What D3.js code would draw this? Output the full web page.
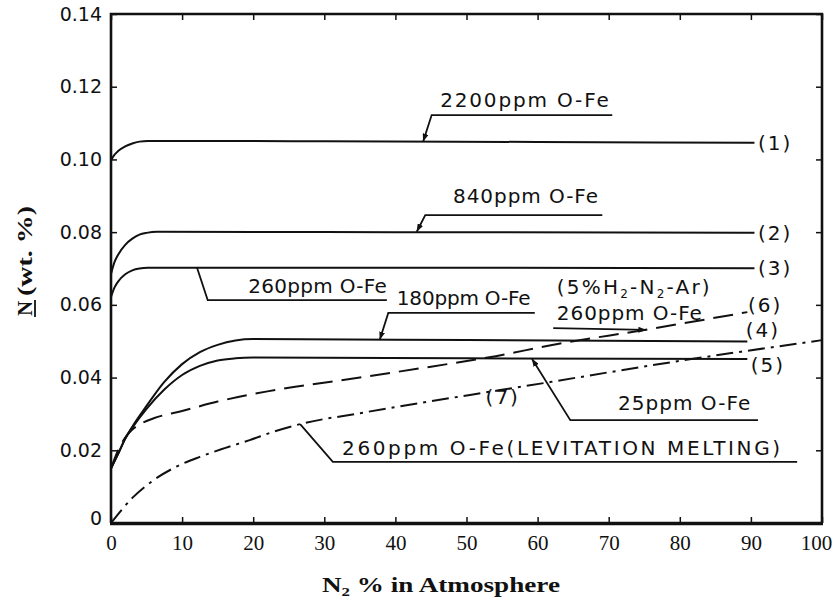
<!DOCTYPE html>
<html>
<head>
<meta charset="utf-8">
<script src="https://cdn.jsdelivr.net/npm/d3@7"></script>
<style>
  body { margin: 0; background: #fff; }
  svg { display: block; }
</style>
</head>
<body>
<svg id="chart" width="836" height="603"></svg>
<script>
// ---- data: N2 % in atmosphere vs. N (wt.%) ----
const xTicks = [0, 10, 20, 30, 40, 50, 60, 70, 80, 90, 100];
const yTicks = [0, 0.02, 0.04, 0.06, 0.08, 0.10, 0.12, 0.14];
const yTickLabels = ["0", "0.02", "0.04", "0.06", "0.08", "0.10", "0.12", "0.14"];

// (1) 2200ppm O-Fe
const curve1X = [0, 0.5, 1, 2, 3, 4, 5.2, 30, 60, 90.5];
const curve1Y = [0.0998, 0.1013, 0.1023, 0.1036, 0.1044, 0.1049, 0.1051, 0.1050, 0.1048, 0.1046];
// (2) 840ppm O-Fe
const curve2X = [0, 0.5, 1, 2, 3, 4, 5, 6.5, 40, 90.5];
const curve2Y = [0.0685, 0.0718, 0.0738, 0.0765, 0.0782, 0.0793, 0.0798, 0.0801, 0.0800, 0.0798];
// (3) 260ppm O-Fe
const curve3X = [0, 0.5, 1, 2, 3, 4, 5.2, 40, 90.5];
const curve3Y = [0.0622, 0.0648, 0.0664, 0.0684, 0.0695, 0.0700, 0.0702, 0.0702, 0.0701];
// (4) 180ppm O-Fe
const curve4X = [0, 1, 2, 3, 5, 7.5, 10, 12.5, 15, 17.5, 20, 50, 89.5];
const curve4Y = [0.0150, 0.0190, 0.0232, 0.0265, 0.0322, 0.0388, 0.0437, 0.0470, 0.0490, 0.0502, 0.0506, 0.0503, 0.0499];
// (5) 25ppm O-Fe
const curve5X = [0, 1, 2, 3, 5, 7.5, 10, 12.5, 15, 17.5, 20, 50, 89.5];
const curve5Y = [0.0150, 0.0190, 0.0232, 0.0262, 0.0314, 0.0367, 0.0407, 0.0432, 0.0447, 0.0453, 0.0455, 0.0453, 0.0451];
// (6) 260ppm O-Fe (5%H2-N2-Ar)
const curve6X = [0, 1, 2, 3, 4, 6, 10, 15, 22, 35, 45, 53, 63, 75, 89.5];
const curve6Y = [0.0150, 0.0200, 0.0235, 0.0257, 0.0271, 0.0288, 0.0308, 0.0334, 0.0362, 0.0400, 0.0430, 0.0455, 0.0493, 0.0531, 0.0580];
// (7) 260ppm O-Fe (levitation melting)
const curve7X = [0, 3, 6, 9, 12.5, 16, 19.5, 23, 26.6, 35, 52, 56.5, 80, 100];
const curve7Y = [0, 0.0069, 0.0118, 0.0153, 0.0182, 0.0206, 0.0228, 0.0252, 0.0272, 0.0302, 0.0357, 0.0371, 0.0446, 0.0503];

const seriesX = [curve1X, curve2X, curve3X, curve4X, curve5X, curve6X, curve7X];
const seriesY = [curve1Y, curve2Y, curve3Y, curve4Y, curve5Y, curve6Y, curve7Y];
const seriesNames = ["(1)", "(2)", "(3)", "(4)", "(5)", "(6)", "(7)"];
const seriesDash = [null, null, null, null, null, "20,9", "17,6,3,6"];
// where each curve's number is written (data units)
const seriesLabelX = [93.4, 93.4, 93.4, 91.7, 92.4, 92.0, 55.1];
const seriesLabelY = [0.1045, 0.0797, 0.0701, 0.0531, 0.0435, 0.0600, 0.0347];

// annotation leaders: curve anchor -> elbow -> end of underline (data units)
const annoText = ["2200ppm O-Fe", "840ppm O-Fe", "260ppm O-Fe", "180ppm O-Fe",
                  "260ppm O-Fe", "25ppm O-Fe", "260ppm O-Fe(LEVITATION MELTING)"];
const annoLeader = [
  [[43.9, 0.1049], [45.1, 0.1122], [70.5, 0.1122]],
  [[43.0, 0.0801], [44.2, 0.0847], [69.1, 0.0847]],
  [[12.1, 0.0702], [13.6, 0.0613], [38.8, 0.0613]],
  [[37.8, 0.0504], [39.0, 0.0578], [59.6, 0.0578]],
  [[75.3, 0.0531], [62.2, 0.0536]],
  [[59.2, 0.0452], [64.6, 0.0283], [91.0, 0.0283]],
  [[26.6, 0.0272], [31.2, 0.0168], [96.5, 0.0168]]
];
const annoArrow = [true, true, false, true, true, true, false];
const annoTextX0 = [46.3, 48.1, 19.3, 40.2, 62.7, 71.3, 32.5];
const annoTextX1 = [70.0, 68.5, 38.8, 59.0, 83.1, 89.9, 94.1];
const annoTextY = [0.1144, 0.0880, 0.0633, 0.0600, 0.0558, 0.0311, 0.0187];
const gasNote = { x0: 62.7, x1: 84.2, y: 0.0630 };

// ---- layout ----
const svg = d3.select("#chart");
const x = d3.scaleLinear().domain([0, 100]).range([111, 822]);
const y = d3.scaleLinear().domain([0, 0.14]).range([523, 14]);
const ink = "#111";

svg.append("defs").append("marker")
  .attr("id", "arrow")
  .attr("viewBox", "0 0 8 6")
  .attr("refX", 8).attr("refY", 3)
  .attr("markerWidth", 8).attr("markerHeight", 6)
  .attr("markerUnits", "userSpaceOnUse")
  .attr("orient", "auto-start-reverse")
  .append("path").attr("d", "M0,0 L8,3 L0,6 Z").attr("fill", ink);

// axes with inward ticks
const sansFont = "'DejaVu Sans', sans-serif";
const serifFont = "'Liberation Serif', 'DejaVu Serif', serif";
const gx = svg.append("g").attr("transform", `translate(0,${y(0)})`)
  .call(d3.axisBottom(x).tickValues(xTicks).tickSize(-6).tickPadding(12).tickFormat(d3.format("d")));
gx.select(".domain").remove();
gx.attr("font-family", null);
gx.selectAll("text").style("font-family", serifFont).style("font-size", "21px").attr("fill", ink);
gx.selectAll("line").attr("stroke", ink).attr("stroke-width", 1.5);
// last label sits just inside the frame corner
gx.selectAll(".tick").filter(d => d === 100).select("text").attr("dx", -6);

const gy = svg.append("g").attr("transform", `translate(${x(0)},0)`)
  .call(d3.axisLeft(y).tickValues(yTicks).tickSize(-6).tickPadding(9)
    .tickFormat((d, i) => yTickLabels[i]));
gy.select(".domain").remove();
gy.selectAll("text").style("font-family", sansFont).style("font-size", "19px").attr("fill", ink);
gy.selectAll("line").attr("stroke", ink).attr("stroke-width", 1.5);
gy.selectAll(".tick").filter(d => d === 0).select("text").attr("dy", "0.1em");

const gyr = svg.append("g").attr("transform", `translate(${x(100)},0)`)
  .call(d3.axisRight(y).tickValues(yTicks).tickSize(-6).tickFormat(""));
gyr.select(".domain").remove();
gyr.selectAll("line").attr("stroke", ink).attr("stroke-width", 1.5);

const gxt = svg.append("g").attr("transform", `translate(0,${y(0.14)})`)
  .call(d3.axisTop(x).tickValues(xTicks).tickSize(-6).tickFormat(""));
gxt.select(".domain").remove();
gxt.selectAll("line").attr("stroke", ink).attr("stroke-width", 1.5);

// frame
svg.append("path")
  .attr("d", `M${x(0)},${y(0)} V${y(0.14)} H${x(100)} V${y(0)}`)
  .attr("fill", "none").attr("stroke", ink).attr("stroke-width", 2.6);
svg.append("line")
  .attr("x1", x(0) - 1).attr("x2", x(100) + 1).attr("y1", y(0) + 0.5).attr("y2", y(0) + 0.5)
  .attr("stroke", ink).attr("stroke-width", 3.6);

// curves
const line = d3.line().x(d => x(d[0])).y(d => y(d[1])).curve(d3.curveMonotoneX);
seriesX.forEach((xs, i) => {
  svg.append("path")
    .datum(xs.map((v, j) => [v, seriesY[i][j]]))
    .attr("d", line)
    .attr("fill", "none")
    .attr("stroke", ink)
    .attr("stroke-width", 2)
    .attr("stroke-dasharray", seriesDash[i]);
});

// curve numbers
seriesNames.forEach((name, i) => {
  svg.append("text")
    .attr("x", x(seriesLabelX[i])).attr("y", y(seriesLabelY[i]))
    .attr("text-anchor", "middle").attr("dominant-baseline", "central")
    .style("font-family", sansFont).style("font-size", "20px")
    .attr("letter-spacing", 2).attr("fill", ink)
    .text(name);
});

// annotations
const leader = d3.line().x(d => x(d[0])).y(d => y(d[1]));
annoText.forEach((t, i) => {
  svg.append("path")
    .attr("d", leader(annoLeader[i]))
    .attr("fill", "none").attr("stroke", ink).attr("stroke-width", 1.8)
    .attr("marker-start", annoArrow[i] ? "url(#arrow)" : null);
  svg.append("text")
    .attr("x", x(annoTextX0[i])).attr("y", y(annoTextY[i]))
    .attr("textLength", x(annoTextX1[i]) - x(annoTextX0[i]))
    .attr("lengthAdjust", "spacing")
    .style("font-family", sansFont).style("font-size", "20px").attr("fill", ink)
    .text(t);
});

// carrier gas note for curve (6)
const gas = svg.append("text")
  .attr("x", x(gasNote.x0)).attr("y", y(gasNote.y))
  .attr("textLength", x(gasNote.x1) - x(gasNote.x0))
  .attr("lengthAdjust", "spacing")
  .style("font-family", sansFont).style("font-size", "20px").attr("fill", ink);
gas.append("tspan").text("(5%H");
gas.append("tspan").style("font-size", "12px").attr("dy", 4).text("2");
gas.append("tspan").attr("dy", -4).text("-N");
gas.append("tspan").style("font-size", "12px").attr("dy", 4).text("2");
gas.append("tspan").attr("dy", -4).text("-Ar)");

// axis titles
const xt = svg.append("text")
  .attr("x", 322).attr("y", 592)
  .attr("textLength", 238).attr("lengthAdjust", "spacingAndGlyphs")
  .style("font-family", serifFont).style("font-weight", "bold")
  .style("font-size", "21px").attr("fill", ink);
xt.append("tspan").text("N");
xt.append("tspan").style("font-size", "13px").attr("dy", 4).text("2");
xt.append("tspan").attr("dy", -4).text(" % in Atmosphere");

const yt = svg.append("g").attr("transform", "translate(32,262) rotate(-90)");
yt.append("text")
  .attr("x", -54).attr("y", 0)
  .style("font-family", serifFont).style("font-weight", "bold")
  .style("font-size", "21px").attr("fill", ink)
  .text("N");
yt.append("line")
  .attr("x1", -55).attr("x2", -38).attr("y1", 3).attr("y2", 3)
  .attr("stroke", ink).attr("stroke-width", 1.8);
yt.append("text")
  .attr("x", -34).attr("y", 0)
  .attr("textLength", 90).attr("lengthAdjust", "spacingAndGlyphs")
  .style("font-family", serifFont).style("font-weight", "bold")
  .style("font-size", "21px").attr("fill", ink)
  .text("(wt. %)");
</script>
</body>
</html>
